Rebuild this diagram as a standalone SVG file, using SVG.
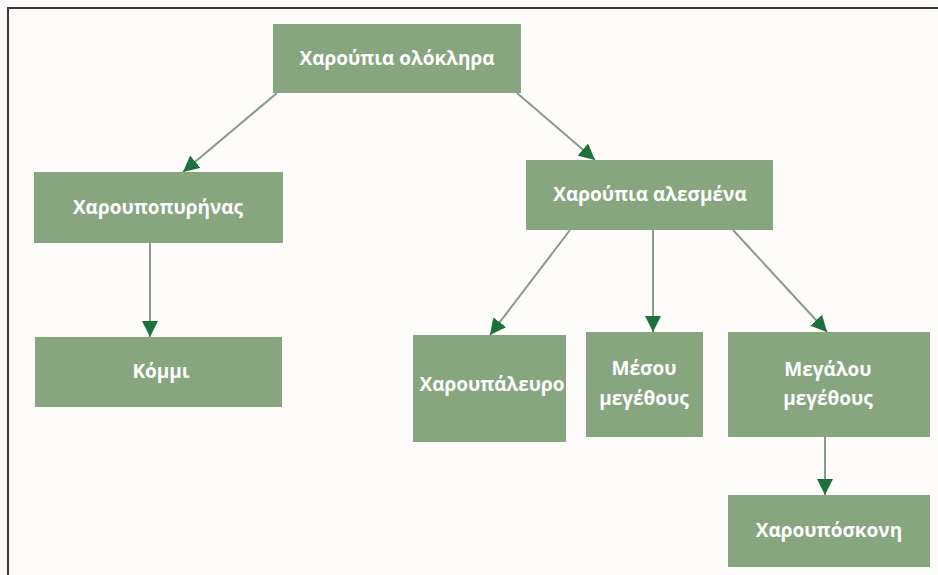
<svg xmlns="http://www.w3.org/2000/svg" width="938" height="575" viewBox="0 0 938 575">
<defs>
<marker id="ah" viewBox="0 0 10 10" refX="10" refY="5" markerWidth="16" markerHeight="16" markerUnits="userSpaceOnUse" orient="auto">
<path d="M0,0 L10,5 L0,10 z" fill="#1b7339"/>
</marker>
<style>
.box{fill:#87a67f;}
.t{font-family:"Open Sans","Liberation Sans",sans-serif;font-weight:bold;font-size:19px;fill:#ffffff;text-anchor:middle;}
.c{stroke:#8a9a88;stroke-width:2;fill:none;marker-end:url(#ah);}
</style>
</defs>
<rect x="0" y="0" width="938" height="575" fill="#fdfcfa"/>
<path d="M8,575 L8,8 L938,8" fill="none" stroke="#3a3a3a" stroke-width="2"/>
<g id="connectors">
<line class="c" x1="277" y1="93" x2="183" y2="172"/>
<line class="c" x1="517" y1="93" x2="595" y2="160"/>
<line class="c" x1="150" y1="243" x2="150" y2="337"/>
<line class="c" x1="570" y1="230" x2="490" y2="335"/>
<line class="c" x1="653" y1="230" x2="653" y2="332"/>
<line class="c" x1="733" y1="230" x2="827" y2="332"/>
<line class="c" x1="825" y1="437" x2="825" y2="495"/>
</g>
<g id="n_olokliro">
<rect class="box" x="273" y="24" width="248" height="69"/>
<text class="t" x="397" y="65">Χαρούπια ολόκληρα</text>
</g>
<g id="n_pyrinas">
<rect class="box" x="34" y="172" width="249" height="71"/>
<text class="t" x="158" y="214">Χαρουποπυρήνας</text>
</g>
<g id="n_kommi">
<rect class="box" x="35" y="337" width="247" height="70"/>
<text class="t" x="161" y="378">Κόμμι</text>
</g>
<g id="n_alesmena">
<rect class="box" x="526" y="160" width="247" height="70"/>
<text class="t" x="650" y="201">Χαρούπια αλεσμένα</text>
</g>
<g id="n_aleuro">
<rect class="box" x="413" y="335" width="153" height="107"/>
<text class="t" x="492" y="391">Χαρουπάλευρο</text>
</g>
<g id="n_mesou">
<rect class="box" x="586" y="332" width="117" height="105"/>
<text class="t" x="644" y="375">Μέσου</text>
<text class="t" x="644" y="405">μεγέθους</text>
</g>
<g id="n_megalou">
<rect class="box" x="728" y="332" width="202" height="105"/>
<text class="t" x="828" y="376">Μεγάλου</text>
<text class="t" x="828" y="405">μεγέθους</text>
</g>
<g id="n_skoni">
<rect class="box" x="728" y="495" width="202" height="72"/>
<text class="t" x="829" y="537">Χαρουπόσκονη</text>
</g>
</svg>
